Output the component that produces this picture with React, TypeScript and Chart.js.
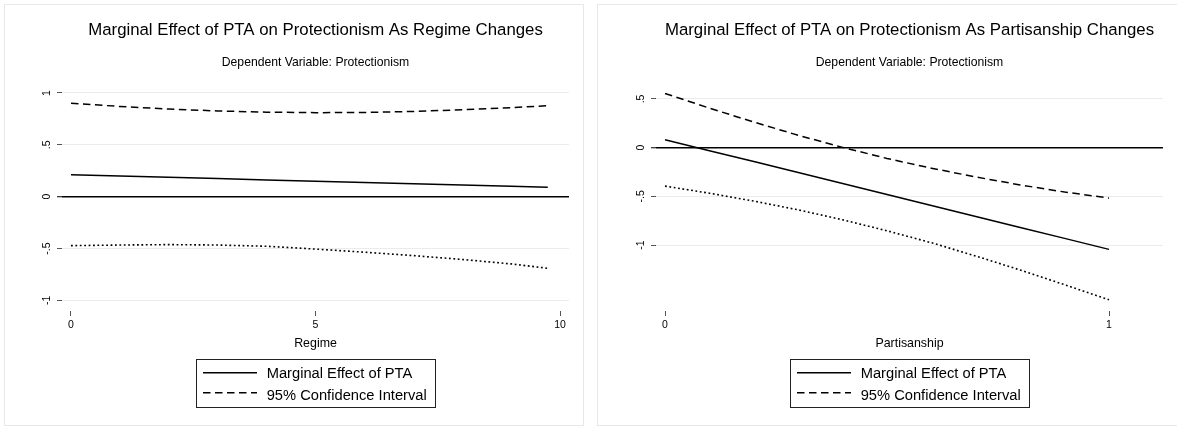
import React, { useEffect, useRef } from "react";
import { Chart, registerables } from "chart.js";

Chart.register(...registerables);

const FONT = '"Liberation Sans", Arial, Helvetica, sans-serif';

// ---------- Panel 1: Regime ----------
const regimeTitle = "Marginal Effect of PTA on Protectionism As Regime Changes";
const regimeAxisTitle = "Regime";
const regimeX = [0, 1, 2, 3, 4, 5, 6, 7, 8, 9, 9.75];
const regimeEffect = [0.212, 0.2, 0.187, 0.175, 0.162, 0.15, 0.137, 0.125, 0.112, 0.1, 0.091];
const regimeUpper = [0.9, 0.87, 0.845, 0.827, 0.815, 0.81, 0.812, 0.822, 0.838, 0.858, 0.877];
const regimeLower = [-0.472, -0.466, -0.462, -0.466, -0.478, -0.505, -0.535, -0.568, -0.605, -0.648, -0.69];
const regimeXTicks = [0, 5, 10];
const regimeXTickLabels = ["0", "5", "10"];
const regimeYTicks = [-1, -0.5, 0, 0.5, 1];
const regimeYTickLabels = ["-1", "-.5", "0", ".5", "1"];

// ---------- Panel 2: Partisanship ----------
const partisanTitle = "Marginal Effect of PTA on Protectionism As Partisanship Changes";
const partisanAxisTitle = "Partisanship";
const partisanX = [0, 0.1, 0.2, 0.3, 0.4, 0.5, 0.6, 0.7, 0.8, 0.9, 1];
const partisanEffect = [0.082, -0.031, -0.143, -0.256, -0.369, -0.482, -0.594, -0.707, -0.82, -0.932, -1.045];
const partisanUpper = [0.557, 0.406, 0.263, 0.127, 0.003, -0.111, -0.211, -0.301, -0.383, -0.456, -0.518];
const partisanLower = [-0.395, -0.468, -0.549, -0.639, -0.741, -0.854, -0.977, -1.113, -1.257, -1.408, -1.563];
const partisanXTicks = [0, 1];
const partisanXTickLabels = ["0", "1"];
const partisanYTicks = [-1, -0.5, 0, 0.5];
const partisanYTickLabels = ["-1", "-.5", "0", ".5"];

const subtitleText = "Dependent Variable: Protectionism";
const legendLabels = ["Marginal Effect of PTA", "95% Confidence Interval"];

interface PanelSpec {
  title: string;
  axisTitle: string;
  xs: number[];
  effect: number[];
  upper: number[];
  lower: number[];
  xTicks: number[];
  xTickLabels: string[];
  yTicks: number[];
  yTickLabels: string[];
  xMin: number;
  xMax: number;
  yMin: number;
  yMax: number;
  yAxisWidth: number;
  rightPad: number;
  yLabelX: number;
}

const DASH = [7.5, 4.5];
const DOT = [1.8, 2.6];

function textPlugin(spec: PanelSpec) {
  return {
    id: "stataText",
    afterDraw(chart: any) {
      const ctx = chart.ctx as CanvasRenderingContext2D;
      const { left, right } = chart.chartArea;
      const cx = (left + right) / 2;
      ctx.save();
      ctx.fillStyle = "#000";
      ctx.textAlign = "center";
      ctx.textBaseline = "alphabetic";
      ctx.font = `16.8px ${FONT}`;
      ctx.fillText(spec.title, cx, 35);
      ctx.font = `12.2px ${FONT}`;
      ctx.fillText(subtitleText, cx, 65.6);
      ctx.font = `12.4px ${FONT}`;
      ctx.fillText(spec.axisTitle, cx, 347.3);

      // rotated y tick labels
      const ys = chart.scales.y;
      ctx.font = `10.5px ${FONT}`;
      spec.yTicks.forEach((v, i) => {
        const py = ys.getPixelForValue(v);
        ctx.save();
        ctx.translate(spec.yLabelX, py);
        ctx.rotate(-Math.PI / 2);
        ctx.textAlign = "center";
        ctx.fillText(spec.yTickLabels[i], 0, 0);
        ctx.restore();
      });

      // legend
      ctx.font = `14.7px ${FONT}`;
      const tw = Math.max(...legendLabels.map((l) => ctx.measureText(l).width));
      const bw = Math.round(70.7 + tw + 8.3);
      const bx = Math.round(cx - bw / 2);
      const by = 359;
      const bh = 48;
      ctx.strokeStyle = "#222";
      ctx.lineWidth = 1;
      ctx.setLineDash([]);
      ctx.strokeRect(bx + 0.5, by + 0.5, bw, bh);
      ctx.textAlign = "left";
      ctx.lineWidth = 1.4;
      ctx.strokeStyle = "#000";
      ctx.beginPath();
      ctx.moveTo(bx + 7, 372.7);
      ctx.lineTo(bx + 61, 372.7);
      ctx.stroke();
      ctx.setLineDash(DASH);
      ctx.beginPath();
      ctx.moveTo(bx + 7, 392.7);
      ctx.lineTo(bx + 61, 392.7);
      ctx.stroke();
      ctx.setLineDash([]);
      ctx.fillText(legendLabels[0], bx + 70.7, 378.3);
      ctx.fillText(legendLabels[1], bx + 70.7, 400);
      ctx.restore();
    },
  };
}

function makeConfig(spec: PanelSpec): any {
  const pts = (ys: number[]) => spec.xs.map((x, i) => ({ x, y: ys[i] }));
  const base = {
    borderColor: "#000",
    backgroundColor: "#000",
    borderWidth: 1.5,
    pointRadius: 0,
    fill: false,
    tension: 0,
  };
  return {
    type: "line",
    data: {
      datasets: [
        { ...base, label: legendLabels[0], data: pts(spec.effect) },
        { ...base, label: legendLabels[1], data: pts(spec.upper), borderDash: DASH },
        { ...base, label: "lower", data: pts(spec.lower), borderDash: DOT, borderWidth: 1.6 },
      ],
    },
    options: {
      animation: false,
      responsive: false,
      maintainAspectRatio: false,
      events: [],
      layout: { padding: { left: 0, right: spec.rightPad, top: 80, bottom: 0 } },
      plugins: { legend: { display: false }, tooltip: { enabled: false }, title: { display: false } },
      scales: {
        x: {
          type: "linear",
          min: spec.xMin,
          max: spec.xMax,
          afterBuildTicks: (s: any) => {
            s.ticks = spec.xTicks.map((v) => ({ value: v }));
          },
          afterFit: (s: any) => {
            s.height = 115;
          },
          border: { display: false },
          grid: {
            drawOnChartArea: false,
            drawTicks: true,
            tickLength: 5,
            tickColor: "#555",
            tickWidth: 1,
          },
          ticks: {
            autoSkip: false,
            maxRotation: 0,
            minRotation: 0,
            padding: 3,
            color: "#000",
            font: { family: FONT, size: 10.5 },
            callback: (v: number) => {
              const i = spec.xTicks.indexOf(v);
              return i >= 0 ? spec.xTickLabels[i] : "";
            },
          },
        },
        y: {
          type: "linear",
          min: spec.yMin,
          max: spec.yMax,
          afterBuildTicks: (s: any) => {
            s.ticks = spec.yTicks.map((v) => ({ value: v }));
          },
          afterFit: (s: any) => {
            s.width = spec.yAxisWidth;
          },
          border: { display: false },
          grid: {
            drawOnChartArea: true,
            drawTicks: true,
            tickLength: 5,
            color: (c: any) => (c.tick && c.tick.value === 0 ? "#000" : "#ebebeb"),
            lineWidth: (c: any) => (c.tick && c.tick.value === 0 ? 1.5 : 1),
            tickColor: (c: any) => (c.tick && c.tick.value === 0 ? "#000" : "#555"),
            tickWidth: 1,
          },
          ticks: {
            color: "rgba(0,0,0,0)",
            font: { family: FONT, size: 10.5 },
            callback: () => "",
          },
        },
      },
    },
    plugins: [textPlugin(spec)],
  };
}

const regimeSpec: PanelSpec = {
  title: regimeTitle,
  axisTitle: regimeAxisTitle,
  xs: regimeX,
  effect: regimeEffect,
  upper: regimeUpper,
  lower: regimeLower,
  xTicks: regimeXTicks,
  xTickLabels: regimeXTickLabels,
  yTicks: regimeYTicks,
  yTickLabels: regimeYTickLabels,
  xMin: -0.184,
  xMax: 10.184,
  yMin: -1.102,
  yMax: 1.125,
  yAxisWidth: 62,
  rightPad: 21,
  yLabelX: 50,
};

const partisanSpec: PanelSpec = {
  title: partisanTitle,
  axisTitle: partisanAxisTitle,
  xs: partisanX,
  effect: partisanEffect,
  upper: partisanUpper,
  lower: partisanLower,
  xTicks: partisanXTicks,
  xTickLabels: partisanXTickLabels,
  yTicks: partisanYTicks,
  yTickLabels: partisanYTickLabels,
  xMin: -0.0203,
  xMax: 1.1216,
  yMin: -1.678,
  yMax: 0.695,
  yAxisWidth: 66,
  rightPad: 14,
  yLabelX: 54,
};

function Panel({ spec, left, width }: { spec: PanelSpec; left: number; width: number }) {
  const ref = useRef<HTMLCanvasElement | null>(null);
  useEffect(() => {
    if (!ref.current) return;
    const chart = new Chart(ref.current, makeConfig(spec));
    return () => chart.destroy();
  }, [spec]);
  return (
    <canvas
      ref={ref}
      width={width}
      height={426}
      style={{ position: "absolute", left, top: 0, width, height: 426 }}
    />
  );
}

export default function App() {
  return (
    <div style={{ position: "absolute", left: 0, top: 0, width: 1177, height: 426, background: "#fff", overflow: "hidden" }}>
      <div
        style={{
          position: "absolute",
          left: 4,
          top: 4,
          width: 578,
          height: 420,
          border: "1px solid #e8e8e8",
        }}
      />
      <div
        style={{
          position: "absolute",
          left: 597,
          top: 4,
          width: 620,
          height: 420,
          border: "1px solid #e8e8e8",
        }}
      />
      <Panel spec={regimeSpec} left={0} width={590} />
      <Panel spec={partisanSpec} left={590} width={587} />
    </div>
  );
}
